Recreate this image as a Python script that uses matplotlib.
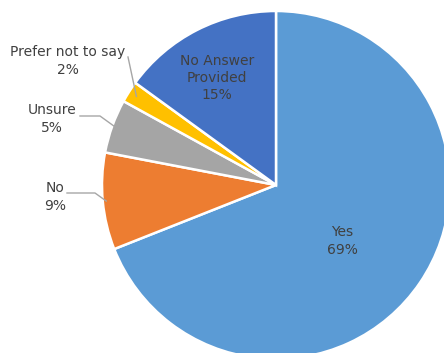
import numpy as np
import matplotlib
matplotlib.use("Agg")
import matplotlib.pyplot as plt

categories = ["Yes", "No", "Unsure", "Prefer not to say", "No Answer\nProvided"]
percents = [69, 9, 5, 2, 15]
colors = ["#5B9BD5", "#ED7D31", "#A5A5A5", "#FFC000", "#4472C4"]

W, H = 444, 353
fig = plt.figure(figsize=(W / 100, H / 100), dpi=100)
ax = fig.add_axes([0, 0, 1, 1])

cx, cy, r = 276, H - 185, 174
wedges, _ = ax.pie(percents, colors=colors, startangle=90, counterclock=False,
                   center=(cx, cy), radius=r, frame=True,
                   wedgeprops=dict(edgecolor="white", linewidth=1.8))
ax.set_xlim(0, W)
ax.set_ylim(0, H)
ax.axis("off")

tc = "#404040"
fs = 10

def px(x, y):
    return x, H - y

def label(i, x, y):
    ax.text(*px(x, y), f"{categories[i]}\n{percents[i]}%", ha="center", va="center",
            fontsize=fs, color=tc, linespacing=1.3)

# labels inside the slices
label(0, 342, 241)
label(4, 217, 78)
# labels outside, with leader lines
label(3, 68, 61)
label(2, 52, 119)
label(1, 55, 197)

def edge_point(i, f=0.98):
    w = wedges[i]
    a = np.deg2rad((w.theta1 + w.theta2) / 2)
    return cx + f * r * np.cos(a), cy + f * r * np.sin(a)

lc = "#A6A6A6"
# No
ex, ey = edge_point(1)
ax.plot([67, 95, ex], [H - 193, H - 193, ey], color=lc, lw=1)
# Unsure
ex, ey = edge_point(2)
ax.plot([80, 100, ex], [H - 116, H - 116, ey], color=lc, lw=1)
# Prefer not to say
ex, ey = edge_point(3, 0.95)
ax.plot([128, ex], [H - 57, ey], color=lc, lw=1)

fig.savefig("out.png", dpi=100)
